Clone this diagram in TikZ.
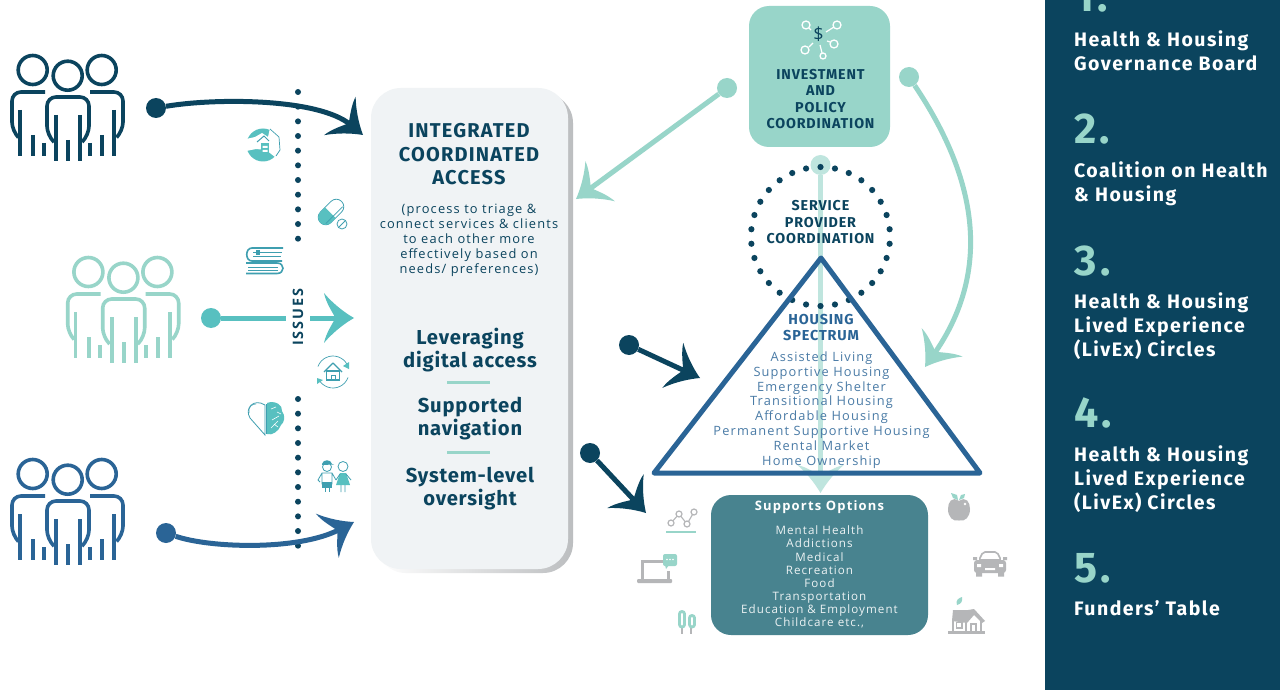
\documentclass[tikz,border=0pt]{standalone}
\usepackage{fontspec}
\setmainfont{Open Sans}
\newfontfamily\hd{Fira Sans}[LetterSpace=6]
\newfontfamily\hdn{Fira Sans}[LetterSpace=4]
\newfontfamily\hdp{Fira Sans}[LetterSpace=7.5]
\newfontfamily\hdi{Fira Sans}[LetterSpace=8]
\newfontfamily\bodyf{Open Sans}[LetterSpace=9]
\newfontfamily\bodyi{Open Sans}[LetterSpace=14]
\usetikzlibrary{arrows.meta}
\definecolor{dark}{HTML}{0B445E}
\definecolor{blue}{HTML}{2A6496}
\definecolor{mint}{HTML}{98D5C9}
\definecolor{lmint}{HTML}{BFE5DE}
\definecolor{teal}{HTML}{58C0C0}
\definecolor{itl}{HTML}{3F9FB0}
\definecolor{supp}{HTML}{48838F}
\definecolor{gry}{HTML}{B5B6B8}
\definecolor{shad}{HTML}{BCBEC0}
\definecolor{pale}{HTML}{F0F3F5}
\pgfdeclarearrow{
  name=Swept,
  defaults={length=30pt},
  setup code={
    \pgfarrowssettipend{0pt}
    \pgfarrowssetbackend{-\pgfarrowlength}
    \pgfarrowssetlineend{-.55\pgfarrowlength}
    \pgfarrowssetvisualbackend{-.55\pgfarrowlength}
    \pgfarrowssavethe\pgfarrowlength
  },
  drawing code={
    \pgfpathmoveto{\pgfqpoint{0pt}{0pt}}
    \pgfpathcurveto{\pgfqpoint{-.35\pgfarrowlength}{.2\pgfarrowlength}}{\pgfqpoint{-.72\pgfarrowlength}{.5\pgfarrowlength}}{\pgfqpoint{-1\pgfarrowlength}{.83\pgfarrowlength}}
    \pgfpathcurveto{\pgfqpoint{-.93\pgfarrowlength}{.5\pgfarrowlength}}{\pgfqpoint{-.72\pgfarrowlength}{.2\pgfarrowlength}}{\pgfqpoint{-.62\pgfarrowlength}{0pt}}
    \pgfpathcurveto{\pgfqpoint{-.72\pgfarrowlength}{-.2\pgfarrowlength}}{\pgfqpoint{-.93\pgfarrowlength}{-.5\pgfarrowlength}}{\pgfqpoint{-1\pgfarrowlength}{-.83\pgfarrowlength}}
    \pgfpathcurveto{\pgfqpoint{-.72\pgfarrowlength}{-.5\pgfarrowlength}}{\pgfqpoint{-.35\pgfarrowlength}{-.2\pgfarrowlength}}{\pgfqpoint{0pt}{0pt}}
    \pgfpathclose\pgfusepathqfill
  }
}
\tikzset{
  startdot/.style={circle,minimum size=20pt,inner sep=0pt,fill=#1},
  conn/.style={line width=5pt,color=#1,-{Swept[length=30pt]}},
  titletxt/.style={font=\hd\bfseries\fontsize{20}{23.5}\selectfont,text=dark,align=center},
  smalltxt/.style={font=\bodyf\fontsize{12.85}{15}\selectfont,text=dark,align=center},
  leadtxt/.style={font=\hdn\bfseries\fontsize{20.2}{23}\selectfont,text=dark,align=center},
  captxt/.style={font=\hd\bfseries\fontsize{14.3}{16.5}\selectfont,text=dark,align=center},
  hnum/.style={font=\hdi\bfseries\fontsize{43}{43}\selectfont,text=mint,anchor=base west,inner sep=0pt},
  ptxt/.style={font=\hdp\bfseries\fontsize{19.5}{24}\selectfont,text=white,align=left,anchor=north west,inner sep=0pt},
  legbar/.style={line width=3.8pt},
  ol/.style={draw=itl,line width=.8pt}
}
\newcommand{\people}[3]{%
  \begin{scope}[shift={(#1,#2)},draw=#3,line width=3.6pt]
    \draw (32.7,70) circle (14.5); \draw (67.7,75.7) circle (14.5); \draw (101.7,70) circle (14.5);
    \draw[rounded corners=9pt] (45,92) -- (12,92) -- (12,131) -- (18,137);
    \draw[rounded corners=9pt] (90,92) -- (123,92) -- (123,131) -- (117,137);
    \draw[rounded corners=9pt] (54,142) -- (47,135) -- (47,97) -- (89,97) -- (89,135) -- (82,142);
    \foreach \x/\y in {19.7/110,33/135,44/143,114/110,102/135,90/143} \draw[legbar,draw=#3] (\x,\y) -- (\x,156);
    \foreach \x/\y in {56/115,68/140,80/115} \draw[legbar,draw=#3] (\x,\y) -- (\x,161);
  \end{scope}}
\begin{document}
\begin{tikzpicture}[x=1pt,y=-1pt]
\useasboundingbox (0,0) rectangle (1280,690);
\clip (0,0) rectangle (1280,690);
\fill[white] (0,0) rectangle (1280,690);
% right panel
\fill[dark] (1045,0) rectangle (1280,690);
\node[hnum] (n1) at (1074,12) {1.};
\node[hnum] (n2) at (1074,143) {2.};
\node[hnum] (n3) at (1074,275) {3.};
\node[hnum] (n4) at (1074,427) {4.};
\node[hnum] (n5) at (1074,582) {5.};
\node[ptxt] (p1) at (1074,30) {Health \& Housing\\Governance Board};
\node[ptxt] (p2) at (1074,161) {Coalition on Health\\\& Housing};
\node[ptxt] (p3) at (1074,292) {Health \& Housing\\Lived Experience\\(LivEx) Circles};
\node[ptxt] (p4) at (1074,445) {Health \& Housing\\Lived Experience\\(LivEx) Circles};
\node[ptxt] (p5) at (1074,600) {Funders’ Table};
% people
\people{0}{0}{dark}
\people{55.7}{202}{mint}
\people{0}{404}{blue}
% dotted lines
\coordinate (da) at (298,92); \coordinate (db) at (298,246);
\coordinate (dc) at (298,399); \coordinate (dd) at (298,553);
\draw[dark,line width=6pt,line cap=round,dash pattern=on 0pt off 14.67pt] (da) -- (db);
\draw[dark,line width=6pt,line cap=round,dash pattern=on 0pt off 14.67pt] (dc) -- (dd);
% central box
\shade[left color=white,middle color=shad,right color=shad,rounded corners=30pt] (376,93) rectangle (573,573);
\node[fill=pale,rounded corners=30pt,minimum width=197pt,minimum height=481pt,inner sep=0pt] (ica) at (469.5,328.5) {};
\node[titletxt] (t1) at (469,154.5) {INTEGRATED\\COORDINATED\\ACCESS};
\node[smalltxt] (t2) at (469,240) {(process to triage \&\\connect services \& clients\\to each other more\\effectively based on\\needs/ preferences)};
\node[leadtxt] (l1) at (470,350) {Leveraging\\digital access};
\coordinate (r1a) at (447,382.5); \coordinate (r1b) at (490,382.5);
\draw[mint,line width=2.5pt] (r1a) -- (r1b);
\node[leadtxt] (l2) at (470,419) {Supported\\navigation};
\coordinate (r2a) at (447,452.5); \coordinate (r2b) at (490,452.5);
\draw[mint,line width=2.5pt] (r2a) -- (r2b);
\node[leadtxt] (l3) at (470,489) {System-level\\oversight};
% left connectors
\node[startdot=dark] (s1) at (156,108) {};
\coordinate (e1) at (363,135);
\draw[conn=dark] (s1) .. controls (215,98) and (318,98) .. (e1);
\node[startdot=teal] (s2) at (211,318) {};
\coordinate (e2) at (354,318);
\draw[conn=teal] (s2) -- (e2);
\node[fill=white,inner xsep=0pt,inner ysep=7pt,rotate=90,text=dark,font=\bodyi\bfseries\fontsize{14.4}{14}\selectfont,text depth=0pt] (iss) at (298,317) {ISSUES};
\node[startdot=blue] (s3) at (166,533) {};
\coordinate (e3) at (354,522);
\draw[conn=blue] (s3) .. controls (210,548) and (298,551) .. (e3);
% top box
\node[fill=mint,rounded corners=20pt,minimum width=141pt,minimum height=141pt,inner sep=0pt] (ipc) at (819.5,76.5) {};
\node[captxt] (ipct) at (820.5,99) {INVESTMENT\\AND\\POLICY\\COORDINATION};
% mint connectors
\node[startdot=mint] (s4) at (727,88) {};
\coordinate (e4) at (576,199);
\draw[conn=mint] (s4) -- (e4);
\node[startdot=mint] (s5) at (909,77) {};
\coordinate (e5) at (925,367);
\draw[conn=mint] (s5) .. controls (958,150) and (1005,252) .. (e5);
% vertical connector
\node[startdot=lmint] (s6) at (820.5,165) {};
\coordinate (e6) at (820.5,493);
\draw[line width=5.5pt,color=lmint,-{Swept[length=28pt]}] (s6) -- (e6);
% dot ring
\foreach \a in {6,18,...,354} \fill[dark] (820.5,236.5) ++(\a:69.5) circle (3.1);
\node[captxt] (spt) at (820.5,222.5) {SERVICE\\PROVIDER\\COORDINATION};
% triangle
\coordinate (ta) at (821,258); \coordinate (tb) at (654,473); \coordinate (tc) at (980,473);
\draw[blue,line width=5pt,line join=round] (ta) -- (tb) -- (tc) -- cycle;
\node[font=\hd\bfseries\fontsize{14.4}{16}\selectfont,text=blue,align=center] (ht) at (821,328) {HOUSING\\SPECTRUM};
\node[font=\bodyf\fontsize{12.8}{14.8}\selectfont,text=blue!85!white,align=center] (hl) at (821.5,410) {Assisted Living\\Supportive Housing\\Emergency Shelter\\Transitional Housing\\Affordable Housing\\Permanent Supportive Housing\\Rental Market\\Home Ownership};
% dark connectors
\node[startdot=dark] (s7) at (629,345) {};
\coordinate (e7) at (700,378);
\draw[conn=dark] (s7) -- (e7);
\node[startdot=dark] (s8) at (590,453) {};
\coordinate (e8) at (646,513);
\draw[conn=dark] (s8) -- (e8);
% supports
\node[fill=supp,rounded corners=20pt,minimum width=217pt,minimum height=140pt,inner sep=0pt] (sup) at (819.5,565) {};
\node[font=\bodyf\bfseries\fontsize{13}{14}\selectfont,text=white] (st) at (819.5,507) {Supports Options};
\node[font=\bodyf\fontsize{11.6}{13.1}\selectfont,text=white!90!supp,align=center] (sl) at (819.5,577) {Mental Health\\Addictions\\Medical\\Recreation\\Food\\Transportation\\Education \& Employment\\Childcare etc.,};
% ===== icons =====
% hand
\fill[teal] (263,145) circle (16.5);
\fill[white] (246,139) -- (255,137) -- (262,133) -- (268,137) -- (270,128) -- (281,140) -- (280,152) -- (275,157) -- (266,150) -- (256,149) -- (246,151) -- cycle;
\draw[itl,line width=.7pt] (270,129) -- (279,137) -- (280,150) -- (276,156);
\fill[teal] (261,143) rectangle (269,154);
\fill[white] (262.5,146) rectangle (267.5,148) (262.5,150) rectangle (267.5,152);
\draw[itl,line width=1pt] (257,142) -- (264,136) -- (269,141);
% pill
\begin{scope}[shift={(331,212)},rotate=45]
  \draw[ol,fill=white,rounded corners=7.5pt] (-15,-7.5) rectangle (15,7.5);
  \begin{scope}
    \clip[rounded corners=7.5pt] (-15,-7.5) rectangle (15,7.5);
    \fill[teal] (-15,-7.5) rectangle (-1,7.5);
  \end{scope}
  \draw[ol] (-12,4.5) -- (12,4.5);
\end{scope}
\draw[ol,fill=white] (342,224) circle (5);
\draw[ol] (338.5,227.5) -- (345.5,220.5);
% books
\draw[itl,line width=1.6pt] (283,248) -- (252,248) .. controls (245,248) and (245,261) .. (252,261) -- (282,261);
\draw[itl,line width=.8pt] (253,252) -- (282,252) (253,256) -- (281,256);
\fill[itl] (256,250) rectangle (260,255);
\draw[itl,line width=1.6pt] (246,263) -- (277,263) .. controls (285,263) and (285,273.5) .. (277,273.5) -- (246,273.5);
\draw[itl,line width=.8pt] (248,267) -- (278,267) (248,270) -- (278,270);
% house and arrows
\coordinate (hc) at (333,372);
\draw[itl,line width=.7pt] (hc) ++(20:16) arc[start angle=20,end angle=150,radius=16];
\draw[itl,line width=.7pt] (hc) ++(200:16) arc[start angle=200,end angle=330,radius=16];
\fill[teal] (349,362) -- (343,366) -- (349,369) -- cycle;
\fill[teal] (317,378) -- (323,380) -- (317,384) -- cycle;
\draw[itl,line width=1.4pt,line join=round] (324,372) -- (333,363) -- (342,372);
\draw[itl,line width=1.2pt] (326.5,371) rectangle (339.5,380);
\draw[itl,line width=.9pt] (331,380) -- (331,375) -- (335,375) -- (335,380);
% heart / brain
\draw[itl,line width=.8pt,fill=white] (265,435) -- (250,418) .. controls (244,408) and (254,398) .. (265,405) -- cycle;
\draw[itl,line width=.5pt] (249,413) .. controls (248,407) and (252,404) .. (256,404);
\fill[teal] (267,403) .. controls (275,400) and (283,405) .. (282,411) .. controls (286,416) and (284,423) .. (281,425) .. controls (279,431) and (272,436) .. (267,434) -- cycle;
\draw[itl,line width=1pt] (266,404) -- (266,434);
\draw[white,line width=.6pt] (271,409) -- (276,407) (277,412) -- (281,414) (272,420) -- (279,416) (271,428) -- (278,421) (274,424) -- (278,427);
% children
\draw[itl,line width=.8pt,fill=white] (327,467) circle (4.5);
\fill[itl] (322,464) .. controls (323,459) and (331,459) .. (332,464) -- (334,464.5) -- (322,465) -- cycle;
\draw[itl,line width=.8pt] (322,473) -- (318,480) -- (320,482) (332,473) -- (336,480) (322,473) -- (332,473) -- (332,484) -- (322,484) -- cycle;
\fill[itl] (322,482) rectangle (332,488);
\draw[itl,line width=.8pt] (325,488) -- (325,492) (329.5,488) -- (329.5,492);
\draw[itl,line width=.8pt,fill=white] (343,466.5) circle (5);
\fill[teal] (340,473) -- (346,473) -- (350,485) -- (336,485) -- cycle;
\draw[itl,line width=.8pt] (340,474) -- (336,480) (346,474) -- (351,480) (341,485) -- (341,492) (345,485) -- (345,492);
% network icon
\node[font=\fontsize{18}{18}\selectfont,text=dark,inner sep=0pt] (dlr) at (818.5,34) {\$};
\foreach \x/\y/\r in {806/25/4,837/25/4,805/50/4,834/44/4,823/56/3} \draw[white,line width=1.3pt] (\x,\y) circle (\r);
\draw[white,line width=1.2pt] (809,28) -- (811,30) (834,27) -- (826,32) (809,47) -- (813,43) (830,42) -- (827,41) (822,53) -- (820,45);
% chart
\draw[gry,line width=1.1pt] (671,523) -- (679,514) -- (687,524) -- (694,512);
\foreach \x/\y in {671/523,679/514,687/524,694/512} \draw[gry,line width=1.2pt,fill=white] (\x,\y) circle (3);
\draw[mint,line width=1.8pt] (666,532) -- (696,532);
% laptop
\draw[gry,line width=3pt] (663,561.5) -- (642,561.5) -- (642,579) (668,571) -- (668,579);
\fill[gry,rounded corners=1pt] (637,579) rectangle (672,583);
\fill[mint,rounded corners=2pt] (663,554) rectangle (677,566);
\fill[mint] (665,565) -- (669,565) -- (666,569) -- cycle;
\fill[white] (667,559.5) circle (.8) (670,559.5) circle (.8) (673,559.5) circle (.8);
% trees
\draw[gry,line width=1.2pt] (682,627) -- (682,634) (691,627) -- (691,634);
\draw[mint,line width=2.8pt,rounded corners=2.4pt] (679.5,611.5) rectangle (684.5,627);
\draw[mint,line width=2.8pt,rounded corners=2.4pt] (689.5,615.5) rectangle (694.5,627);
% apple
\fill[gry] (959,501) .. controls (952,496) and (948,502) .. (948,509) .. controls (948,517) and (953,522) .. (959,520.5) .. controls (965,522) and (970,517) .. (970,509) .. controls (970,502) and (966,496) .. (959,501) -- cycle;
\fill[white] (965,504) circle (1.3);
\fill[mint] (951,493) -- (957,495) -- (958,500) -- (953,498) -- cycle (959,500) -- (961,495) -- (965,494) -- (964,498) -- cycle;
% car
\fill[gry,rounded corners=3pt] (974,560) rectangle (1006,573);
\fill[gry] (976,572) rectangle (982,576.5) (998,572) rectangle (1004,576.5);
\draw[gry,line width=1.6pt,fill=white,rounded corners=2pt] (979,560) -- (983,552) -- (997,552) -- (1001,560) -- cycle;
\fill[gry] (973,557) rectangle (977,560) (1003,557) rectangle (1007,560);
\fill[white] (977,564) rectangle (981,567) (999,564) rectangle (1003,567) (985,568) rectangle (995,570);
% house
\fill[gry] (948,631) rectangle (985,634);
\fill[gry] (952,621) -- (953,610) -- (968,610) -- (974,609) -- (985,621) -- (982,623) -- (974,615) -- (967,623) -- cycle;
\draw[gry,line width=2pt] (953,621) -- (953,631) (981,620) -- (981,631);
\draw[gry,line width=2pt] (966,621) -- (966,631);
\draw[gry,line width=1.6pt] (956.5,622.5) rectangle (962,628);
\draw[gry,line width=1.8pt] (971,631) -- (971,624) -- (976,624) -- (976,631);
\fill[mint] (957,605) .. controls (955,600) and (959,598) .. (962,597) .. controls (963,601) and (961,604) .. (957,605) -- cycle;
\end{tikzpicture}
\end{document}
